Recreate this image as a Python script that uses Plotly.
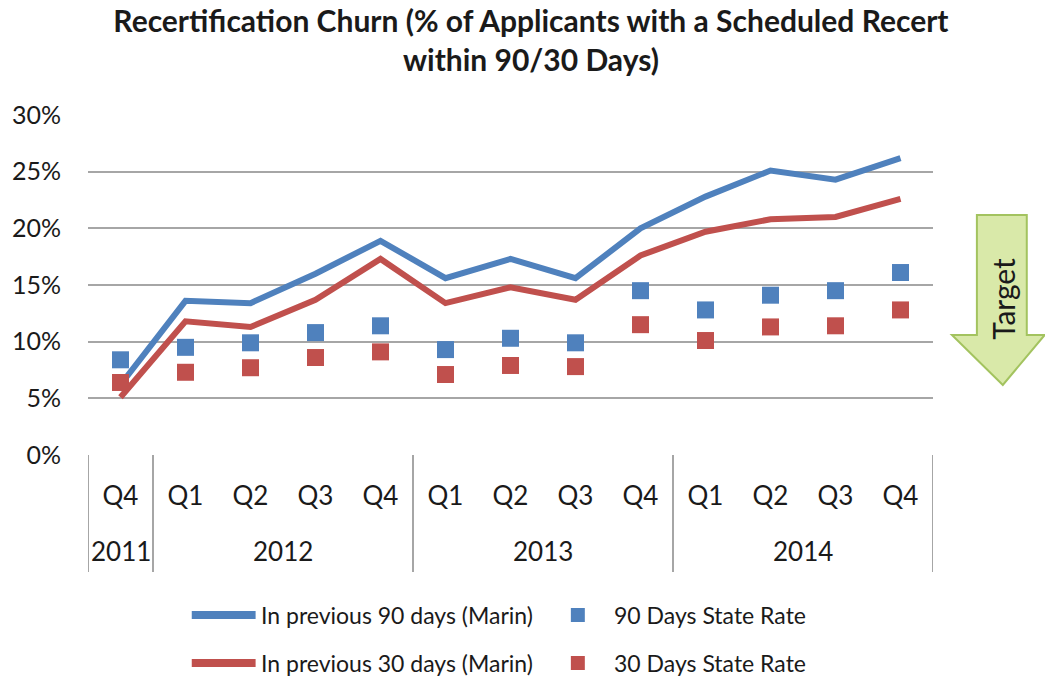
import plotly.graph_objects as go

# ---- data ----
quarters = ["Q4", "Q1", "Q2", "Q3", "Q4", "Q1", "Q2", "Q3", "Q4", "Q1", "Q2", "Q3", "Q4"]
years = ["2011", "2012", "2012", "2012", "2012", "2013", "2013", "2013", "2013",
         "2014", "2014", "2014", "2014"]
marin_90 = [6.2, 13.6, 13.4, 16.0, 18.9, 15.6, 17.3, 15.6, 20.0, 22.8, 25.1, 24.3, 26.2]
marin_30 = [5.1, 11.8, 11.3, 13.7, 17.3, 13.4, 14.8, 13.7, 17.6, 19.7, 20.8, 21.0, 22.6]
state_90 = [8.4, 9.5, 9.9, 10.8, 11.4, 9.3, 10.3, 9.9, 14.5, 12.8, 14.1, 14.5, 16.1]
state_30 = [6.4, 7.3, 7.7, 8.6, 9.1, 7.1, 7.9, 7.8, 11.5, 10.1, 11.3, 11.4, 12.8]
series_names = ["In previous 90 days (Marin)", "90 Days State Rate",
                "In previous 30 days (Marin)", "30 Days State Rate"]
y_ticks = [0, 5, 10, 15, 20, 25, 30]
y_tick_labels = [f"{v}%" for v in y_ticks]

BLUE = "#4F81BD"
RED = "#C0504D"
GRID = "#a6a6a6"
FONT = "Lato"
TXT = "#1a1a1a"

W, H = 1045, 677
L, R, T, B = 86, 933, 115, 455  # plot area in pixels


def px(x):
    return (x - L) / (R - L)


def py(y):
    return (B - y) / (B - T)


idx = list(range(len(quarters)))

fig = go.Figure()
fig.add_trace(go.Scatter(x=idx, y=marin_90, mode="lines", name=series_names[0],
                         line=dict(color=BLUE, width=6)))
fig.add_trace(go.Scatter(x=idx, y=marin_30, mode="lines", name=series_names[2],
                         line=dict(color=RED, width=6)))
fig.add_trace(go.Scatter(x=idx, y=state_90, mode="markers", name=series_names[1],
                         marker=dict(color=BLUE, symbol="square", size=17)))
fig.add_trace(go.Scatter(x=idx, y=state_30, mode="markers", name=series_names[3],
                         marker=dict(color=RED, symbol="square", size=17)))

shapes = []
annotations = []

# category box separators (between year groups)
bounds = [-0.5]
for i in range(1, len(years)):
    if years[i] != years[i - 1]:
        bounds.append(i - 0.5)
bounds.append(len(years) - 0.5)
for b in bounds:
    shapes.append(dict(type="line", xref="x", yref="paper", x0=b, x1=b,
                       y0=0, y1=py(572), line=dict(color=GRID, width=2)))

# year labels
groups = []
for i, yv in enumerate(years):
    if not groups or groups[-1][0] != yv:
        groups.append([yv, [i]])
    else:
        groups[-1][1].append(i)
for yv, members in groups:
    annotations.append(dict(x=sum(members) / len(members), y=py(551), xref="x", yref="paper",
                            text=yv, showarrow=False, xanchor="center", yanchor="middle",
                            font=dict(family=FONT, size=26, color=TXT)))

# custom legend
leg_rows = [(615, BLUE, 0, 1), (663, RED, 2, 3)]
for yrow, col, li, mi in leg_rows:
    shapes.append(dict(type="line", xref="paper", yref="paper", x0=px(190), x1=px(254),
                       y0=py(yrow), y1=py(yrow), line=dict(color=col, width=8)))
    annotations.append(dict(x=px(257), y=py(yrow), xref="paper", yref="paper",
                            text=series_names[li], showarrow=False, xanchor="left",
                            yanchor="middle", font=dict(family=FONT, size=23, color=TXT)))
    shapes.append(dict(type="rect", xref="paper", yref="paper", x0=px(570), x1=px(584),
                       y0=py(yrow - 7), y1=py(yrow + 7), fillcolor=col, line=dict(width=0)))
    annotations.append(dict(x=px(611), y=py(yrow), xref="paper", yref="paper",
                            text=series_names[mi], showarrow=False, xanchor="left",
                            yanchor="middle", font=dict(family=FONT, size=23, color=TXT)))

# Target arrow
pts = [(977, 215), (1027, 215), (1027, 335), (1045, 335), (1003, 385),
       (952, 335), (977, 335)]
path = "M " + " L ".join(f"{px(a):.5f},{py(b):.5f}" for a, b in pts) + " Z"
shapes.append(dict(type="path", xref="paper", yref="paper", path=path,
                   fillcolor="#d9e9a9", line=dict(color="#a3c35f", width=2)))
annotations.append(dict(x=px(1003), y=py(299), xref="paper", yref="paper", text="Target",
                        showarrow=False, textangle=-90, xanchor="center", yanchor="middle",
                        font=dict(family=FONT, size=30, color=TXT)))

fig.update_layout(
    width=W, height=H,
    margin=dict(l=L, r=W - R, t=T, b=H - B, pad=0),
    paper_bgcolor="white", plot_bgcolor="white",
    showlegend=False,
    title=dict(text="<b>Recertification Churn (% of Applicants with a Scheduled Recert<br>within 90/30 Days)</b>",
               x=px(530), xref="paper", xanchor="center", y=1 - 32 / H, yref="container",
               yanchor="middle", font=dict(family=FONT, size=30, color=TXT)),
    xaxis=dict(range=[-0.5, len(quarters) - 0.5], tickmode="array", tickvals=idx,
               ticktext=quarters, showgrid=False, zeroline=False, showline=False,
               ticks="", ticklabelstandoff=23,
               tickfont=dict(family=FONT, size=26, color=TXT), fixedrange=True),
    yaxis=dict(range=[0, 30], tickmode="array", tickvals=y_ticks, ticktext=y_tick_labels,
               showgrid=True, gridcolor=GRID, gridwidth=2, zeroline=False,
               showline=False, ticks="", ticklabelstandoff=26,
               tickfont=dict(family=FONT, size=25, color=TXT), fixedrange=True),
    shapes=shapes,
    annotations=annotations,
)

fig.write_html("out.html", config={"displayModeBar": False},
               post_script="document.body.style.margin='0px';document.body.style.overflow='hidden';")
